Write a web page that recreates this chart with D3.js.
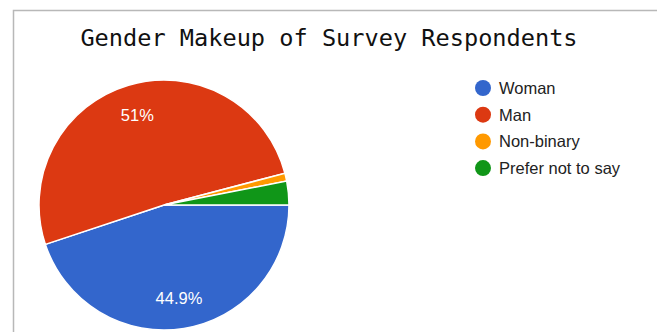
<!DOCTYPE html>
<html lang="en">
<head>
  <meta charset="UTF-8" />
  <title>Gender Makeup of Survey Respondents</title>
  <script src="https://d3js.org/d3.v7.min.js"></script>
  <style>
    body {
      margin: 0;
      background: #fff;
    }
    svg {
      display: block;
    }
  </style>
</head>
<body>
  <svg id="chart" width="657" height="332"></svg>

  <script>
    // respondent counts per answer
    const categories = ["Woman", "Man", "Non-binary", "Prefer not to say"];
    const counts = [44, 50, 1, 3];
    const colors = ["#3366cc", "#dc3912", "#ff9900", "#109618"];

    const svg = d3.select("#chart"),
      width = +svg.attr("width"),
      height = +svg.attr("height");

    // frame of the card, cut off on the right and bottom
    svg.append("rect")
      .attr("x", 13.5)
      .attr("y", 10.5)
      .attr("width", width + 20)
      .attr("height", height + 20)
      .attr("fill", "none")
      .attr("stroke", "#b8b8b8")
      .attr("stroke-width", 1.5);

    svg.append("text")
      .attr("x", 329)
      .attr("y", 46)
      .attr("text-anchor", "middle")
      .attr("font-family", "'DejaVu Sans Mono', monospace")
      .attr("font-size", 23.6)
      .attr("fill", "#111")
      .text("Gender Makeup of Survey Respondents");

    const cx = 164, cy = 205, r = 125;
    const total = d3.sum(counts);

    const pie = d3.pie()
      .sort(null)
      .startAngle(Math.PI / 2)
      .endAngle(Math.PI / 2 + 2 * Math.PI);

    const arcs = pie(counts);
    const arc = d3.arc().innerRadius(0).outerRadius(r);
    const labelArc = d3.arc().innerRadius(r * 0.75).outerRadius(r * 0.75);

    const g = svg.append("g").attr("transform", `translate(${cx},${cy})`);

    g.selectAll("path")
      .data(arcs)
      .join("path")
      .attr("d", arc)
      .attr("fill", (d, i) => colors[i])
      .attr("stroke", "#fff")
      .attr("stroke-width", 1.5);

    const fmt = v => {
      const p = Math.round(v / total * 1000) / 10;
      return (p % 1 === 0 ? p.toFixed(0) : p.toFixed(1)) + "%";
    };

    g.selectAll("text")
      .data(arcs.filter(d => d.value / total > 0.05))
      .join("text")
      .attr("transform", d => `translate(${labelArc.centroid(d)})`)
      .attr("dy", "0.36em")
      .attr("text-anchor", "middle")
      .attr("font-family", "'Liberation Sans', Arial, sans-serif")
      .attr("font-size", 16.5)
      .attr("fill", "#fff")
      .text(d => fmt(d.value));

    const legend = svg.append("g")
      .selectAll("g")
      .data(categories)
      .join("g")
      .attr("transform", (d, i) => `translate(483,${88 + i * 26.7})`);

    legend.append("circle")
      .attr("r", 8)
      .attr("fill", (d, i) => colors[i]);

    legend.append("text")
      .attr("x", 16)
      .attr("dy", "0.36em")
      .attr("font-family", "'Liberation Sans', Arial, sans-serif")
      .attr("font-size", 16.5)
      .attr("fill", "#222")
      .text(d => d);
  </script>
</body>
</html>
